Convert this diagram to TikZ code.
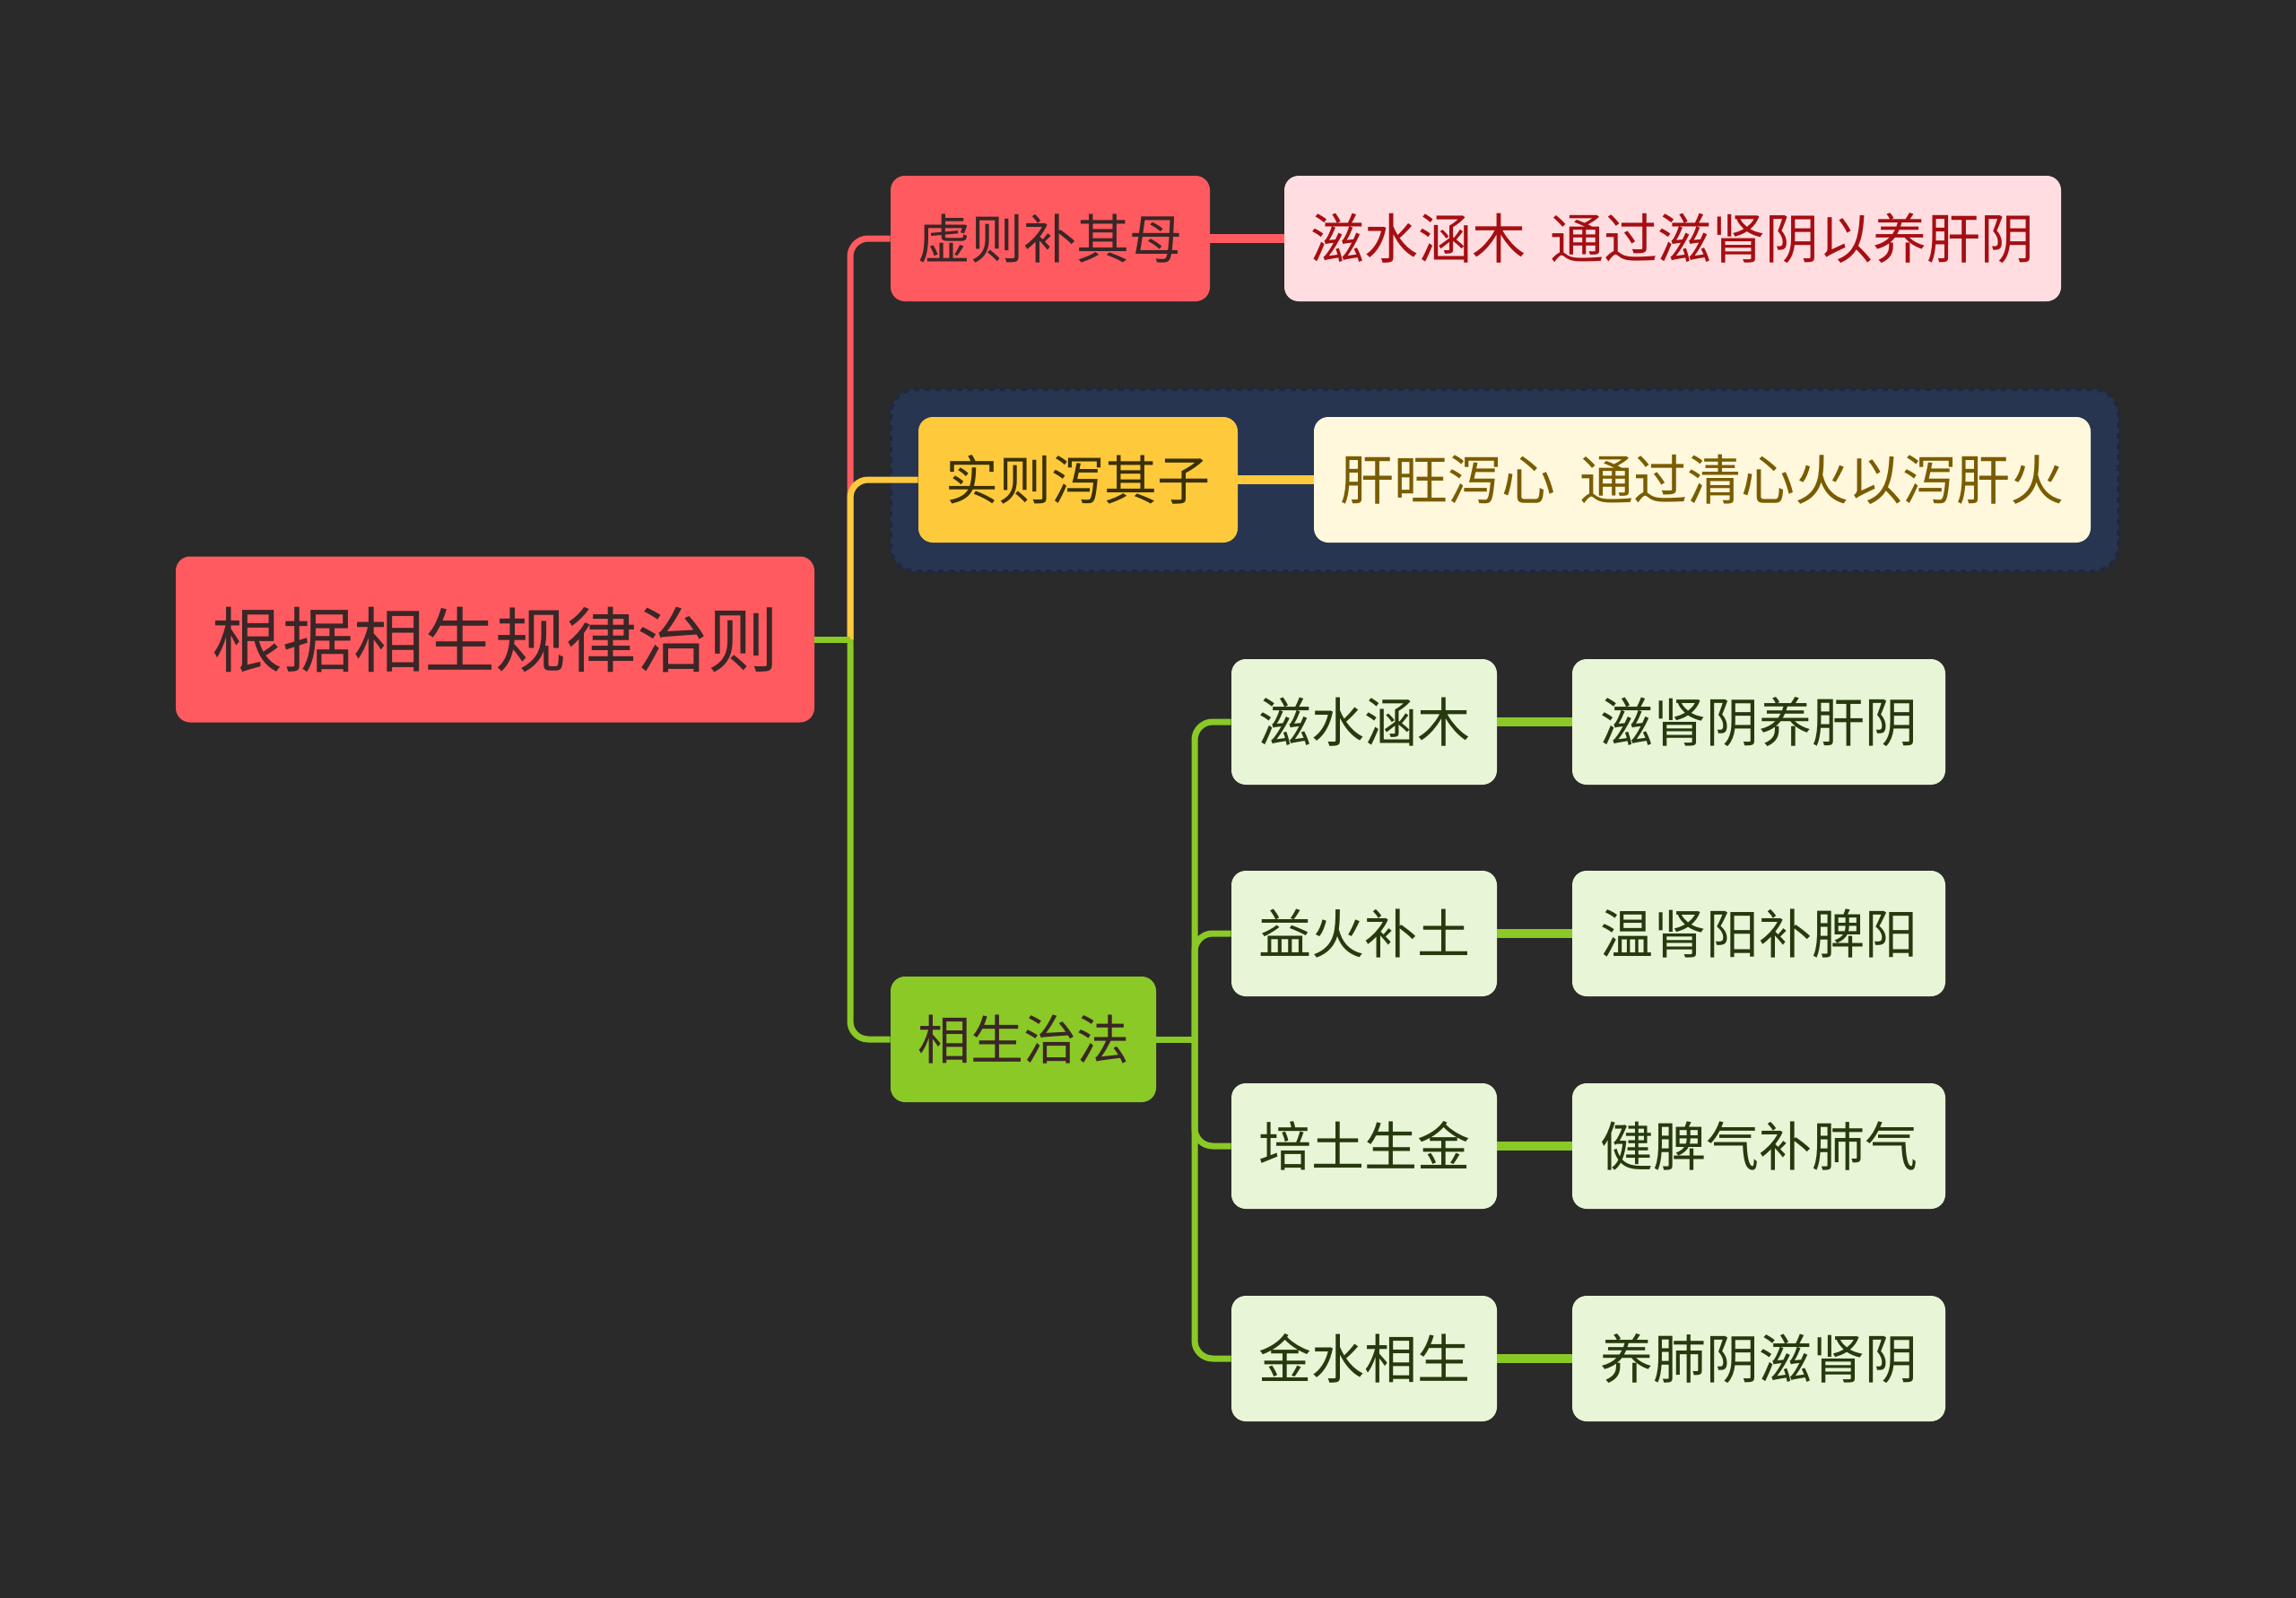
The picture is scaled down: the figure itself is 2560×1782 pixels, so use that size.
\documentclass[tikz,border=0pt]{standalone}
\usepackage{fontspec}
\setmainfont{Noto Sans CJK SC}
\usetikzlibrary{positioning}

\definecolor{bgdark}{HTML}{2A2A2A}
\definecolor{redmain}{HTML}{FF5A5F}
\definecolor{redtext}{HTML}{3A2626}
\definecolor{pinkbox}{HTML}{FFDDE0}
\definecolor{pinktext}{HTML}{A50E12}
\definecolor{yellowmain}{HTML}{FFC93C}
\definecolor{yellowtext}{HTML}{3A3000}
\definecolor{creambox}{HTML}{FFF8DC}
\definecolor{creamtext}{HTML}{7A5C00}
\definecolor{navyband}{HTML}{283550}
\definecolor{navyedge}{HTML}{1E2940}
\definecolor{greenmain}{HTML}{8AC926}
\definecolor{greenbox}{HTML}{E8F5D6}
\definecolor{greentext}{HTML}{263A0E}

\begin{document}
\begin{tikzpicture}[x=0.5pt, y=-0.5pt,
	every node/.style={rounded corners=8pt, align=center, inner sep=0pt, font=\fontsize{29.5}{34}\selectfont},
	rootbox/.style={fill=redmain, text=redtext, minimum width=356pt, minimum height=92.5pt, font=\fontsize{39.5}{46}\selectfont},
	redbox/.style={fill=redmain, text=redtext, minimum width=178pt, minimum height=70pt},
	pinkleaf/.style={fill=pinkbox, text=pinktext, minimum width=433pt, minimum height=70pt, font=\fontsize{30}{34}\selectfont},
	yellowbox/.style={fill=yellowmain, text=yellowtext, minimum width=178pt, minimum height=70pt},
	creamleaf/.style={fill=creambox, text=creamtext, minimum width=433pt, minimum height=70pt, font=\fontsize{30}{34}\selectfont},
	greenbox/.style={fill=greenmain, text=redtext, minimum width=148pt, minimum height=70pt},
	greenitem/.style={fill=greenbox, text=greentext, minimum width=148pt, minimum height=70pt},
	greenleaf/.style={fill=greenbox, text=greentext, minimum width=208pt, minimum height=70pt},
	branch/.style={line width=3.5pt, rounded corners=10pt},
	twig/.style={line width=5pt},
]

\useasboundingbox[fill=bgdark] (0,0) rectangle (2560,1782);

% highlighted band behind the second branch
\fill[navyband, draw=navyedge, dashed, line width=2pt, rounded corners=14pt] (993,434) rectangle (2362,637);

\node[rootbox] (root) at (552,713) {根据相生规律治则};

\node[redbox] (xuze) at (1171,266) {虚则补其母};
\node[pinkleaf] (xuleaf) at (1865,266) {滋水涵木\ \ 通过滋肾阴以养肝阴};

\node[yellowbox] (shize) at (1202,535) {实则泻其子};
\node[creamleaf] (shileaf) at (1898,535) {肝旺泻心\ \ 通过清心火以泻肝火};

\node[greenbox] (xiangsheng) at (1141,1159) {相生治法};

\node[greenitem] (zishui) at (1521,805) {滋水涵木};
\node[greenleaf] (zishuileaf) at (1961,805) {滋肾阴养肝阴};
\node[greenitem] (yihuo) at (1521,1041) {益火补土};
\node[greenleaf] (yihuoleaf) at (1961,1041) {温肾阳补脾阳};
\node[greenitem] (peitu) at (1521,1278) {培土生金};
\node[greenleaf] (peituleaf) at (1961,1278) {健脾气补肺气};
\node[greenitem] (jinshui) at (1521,1515) {金水相生};
\node[greenleaf] (jinshuileaf) at (1961,1515) {养肺阴滋肾阴};

\coordinate (trunk) at (948,713);
\coordinate (subtrunk) at (1332,1159);

% main branches
\draw[branch, redmain] (trunk) |- (xuze.west);
\draw[branch, yellowmain] (trunk) |- (shize.west);
\draw[branch, greenmain] (trunk) |- (xiangsheng.west);
\draw[branch, greenmain] (root.east) -- (trunk);

\draw[twig, redmain] (xuze.east) -- (xuleaf.west);
\draw[twig, yellowmain] (shize.east) -- (shileaf.west);

% sub-branches of the green node
\draw[branch, greenmain] (xiangsheng.east) -- (subtrunk);
\draw[branch, greenmain] (subtrunk) |- (zishui.west);
\draw[branch, greenmain] (subtrunk) |- (yihuo.west);
\draw[branch, greenmain] (subtrunk) |- (peitu.west);
\draw[branch, greenmain] (subtrunk) |- (jinshui.west);

\draw[twig, greenmain] (zishui.east) -- (zishuileaf.west);
\draw[twig, greenmain] (yihuo.east) -- (yihuoleaf.west);
\draw[twig, greenmain] (peitu.east) -- (peituleaf.west);
\draw[twig, greenmain] (jinshui.east) -- (jinshuileaf.west);
\end{tikzpicture}
\end{document}
